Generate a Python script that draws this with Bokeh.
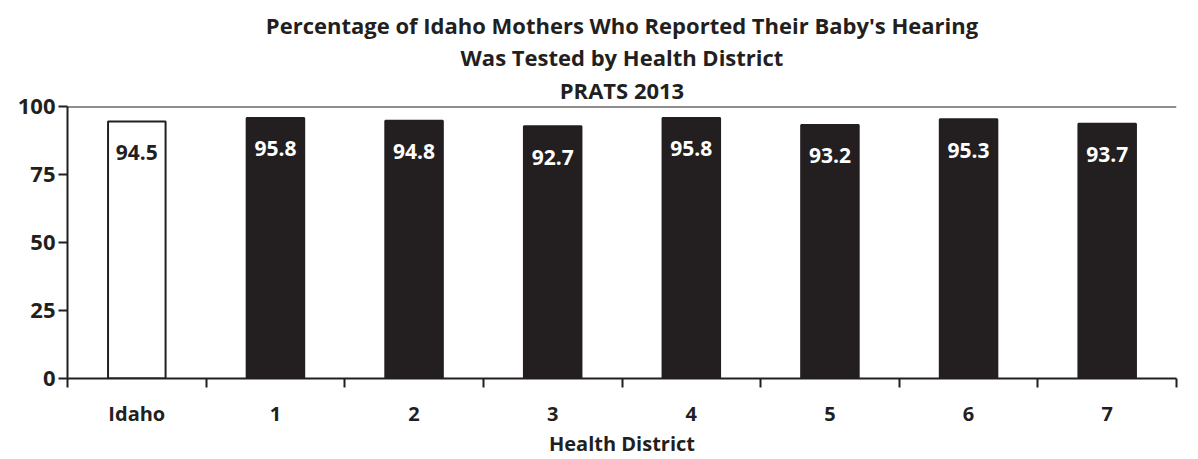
from bokeh.plotting import figure
from bokeh.models import Range1d, FixedTicker, Span, Title, ColumnDataSource
from bokeh.embed import file_html
from bokeh.resources import INLINE
from bokeh.core.properties import value

categories = ["Idaho", "1", "2", "3", "4", "5", "6", "7"]
percents = [94.5, 95.8, 94.8, 92.7, 95.8, 93.2, 95.3, 93.7]
fills = ["#ffffff"] + ["#231f20"] * 7
text_colors = ["#231f20"] + ["#ffffff"] * 7
y_ticks = [0, 25, 50, 75, 100]
title_lines = ["Percentage of Idaho Mothers Who Reported Their Baby's Hearing",
               "Was Tested by Health District",
               "PRATS 2013"]
x_label = "Health District"

FONT = "Open Sans"
INK = "#231f20"

centers = [i + 0.5 for i in range(len(categories))]
src = ColumnDataSource(dict(x=centers, top=percents, fill=fills, tc=text_colors,
                            lab=[f"{v:.1f}" for v in percents]))

p = figure(width=1182, height=459, output_backend="svg", toolbar_location=None,
           x_range=Range1d(0, len(categories)), y_range=Range1d(0, 100),
           min_border_left=67, min_border_right=6, min_border_top=106, min_border_bottom=79)
p.title = None
for i, line in enumerate(reversed(title_lines)):
    p.add_layout(Title(text=line, align="center", text_font=FONT, text_font_size="22px",
                       text_font_style="bold", text_color=INK,
                       standoff=3 if i == 0 else 0, offset=0), "above")

p.outline_line_color = None
p.grid.visible = False
p.background_fill_color = "white"

p.vbar(x="x", top="top", bottom=0, width=0.415, fill_color="fill", line_color=INK,
       line_width=2, source=src)
p.text(x="x", y="top", text="lab", text_color="tc", text_font=value(FONT),
       text_font_size="21px", text_font_style="bold", text_align="center",
       text_baseline="middle", y_offset=31, source=src)

p.add_layout(Span(location=100, dimension="width", line_color=INK, line_width=2))

xa = p.xaxis[0]
xa.ticker = FixedTicker(ticks=centers, minor_ticks=list(range(len(categories) + 1)))
xa.major_label_overrides = {c: lab for c, lab in zip(centers, categories)}
xa.major_tick_line_color = None
xa.minor_tick_line_color = INK
xa.minor_tick_line_width = 2
xa.minor_tick_out = 9
xa.minor_tick_in = 0
xa.axis_line_color = INK
xa.axis_line_width = 2
xa.major_label_text_font = FONT
xa.major_label_text_font_size = "20px"
xa.major_label_text_font_style = "bold"
xa.major_label_text_color = INK
xa.major_label_standoff = 12
xa.axis_label = x_label
xa.axis_label_text_font = FONT
xa.axis_label_text_font_size = "20px"
xa.axis_label_text_font_style = "bold"
xa.axis_label_text_color = INK
xa.axis_label_standoff = 0

ya = p.yaxis[0]
ya.ticker = FixedTicker(ticks=y_ticks)
ya.minor_tick_line_color = None
ya.major_tick_line_color = INK
ya.major_tick_line_width = 2
ya.major_tick_out = 9
ya.major_tick_in = 0
ya.axis_line_color = INK
ya.axis_line_width = 2
ya.major_label_text_font = FONT
ya.major_label_text_font_size = "22px"
ya.major_label_text_font_style = "bold"
ya.major_label_text_color = INK
ya.major_label_standoff = 3

open("out.html", "w").write(file_html(p, INLINE))
